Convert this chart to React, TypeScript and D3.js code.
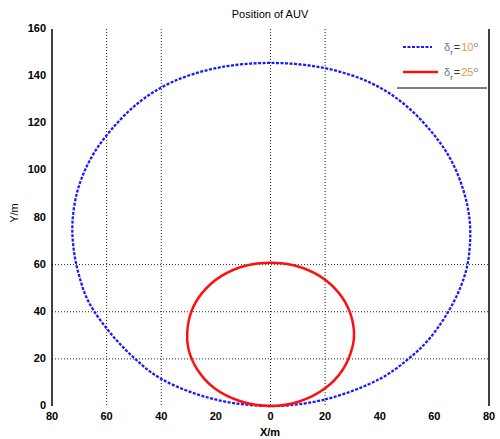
import React from "react";
import * as d3 from "d3";

const title = "Position of AUV";
const xLabel = "X/m";
const yLabel = "Y/m";
const xTicks = [-80, -60, -40, -20, 0, 20, 40, 60, 80];
const xTickLabels = ["80", "60", "40", "20", "0", "20", "40", "60", "80"];
const yTicks = [0, 20, 40, 60, 80, 100, 120, 140, 160];
const xGrid = [-60, -40, 0, 20];
const yGrid = [20, 40, 60];

// delta_r = 10 deg trajectory (x, y)
const blueX = [0, 20, 40, 50.5, 58.5, 67, 71.5, 73, 72.8, 70.5, 65.8, 58.5, 48, 36, 19.5, 0, -19.5, -36, -48, -58.5, -65.8, -70.5, -72.5, -72, -70, -66.5, -59, -50.5, -40, -21];
const blueY = [0, 2.8, 11.5, 20, 29, 44, 57, 68, 80, 92, 105, 117, 129, 137.5, 143.5, 145.6, 143.5, 137.5, 129, 117, 105, 92, 78, 66, 55, 44, 31.5, 21, 11.5, 3];
// delta_r = 25 deg trajectory
const redX = [0, 10.5, 20, 26.5, 30, 30.6, 29, 25, 18.2, 9.2, 0, -9.2, -18.2, -25, -29, -30.5, -30, -26.8, -20.5, -11];
const redY = [0, 1.9, 7.5, 15.5, 25, 31, 40, 48, 55, 59.5, 60.8, 59.5, 55, 48, 40, 31, 24, 15.5, 7.5, 2];

const W = 500, H = 439;
const left = 52, right = 489, top = 29, bottom = 406;

export default function App() {
  const x = d3.scaleLinear().domain([-80, 80]).range([left, right]);
  const y = d3.scaleLinear().domain([0, 160]).range([bottom, top]);
  const line = d3.line<[number, number]>().x(d => x(d[0])).y(d => y(d[1])).curve(d3.curveCatmullRomClosed.alpha(0.5));
  const blue: [number, number][] = blueX.map((v, i) => [v, blueY[i]]);
  const red: [number, number][] = redX.map((v, i) => [v, redY[i]]);
  const font = "'Liberation Sans', Arial, sans-serif";
  return (
    <svg width={W} height={H} style={{ position: "absolute", left: 0, top: 0, background: "#fff" }} fontFamily={font}>
      <rect width={W} height={H} fill="#fff" />
      {xGrid.map(g => (
        <line key={"xg" + g} x1={x(g)} x2={x(g)} y1={top} y2={bottom} stroke="#222" strokeWidth={1} strokeDasharray="1,2" />
      ))}
      {yGrid.map(g => (
        <line key={"yg" + g} x1={left} x2={right} y1={y(g)} y2={y(g)} stroke="#222" strokeWidth={1} strokeDasharray="1,2" />
      ))}
      <line x1={left} x2={left} y1={top} y2={bottom} stroke="#000" strokeWidth={1.5} />
      <line x1={right} x2={right} y1={top} y2={bottom} stroke="#000" strokeWidth={1.5} />
      {xTicks.map((t, i) => (
        <text key={"xt" + t} x={x(t)} y={bottom + 14} textAnchor="middle" fontSize={11} fontWeight="bold">{xTickLabels[i]}</text>
      ))}
      {yTicks.map(t => (
        <text key={"yt" + t} x={left - 6} y={y(t) + 3} textAnchor="end" fontSize={11} fontWeight="bold">{t}</text>
      ))}
      <text x={270} y={18} textAnchor="middle" fontSize={11}>{title}</text>
      <text x={270} y={436} textAnchor="middle" fontSize={11} fontWeight="bold">{xLabel}</text>
      <text transform={`translate(18,${213}) rotate(-90)`} textAnchor="middle" fontSize={11}>{yLabel}</text>
      <path d={line(blue) || ""} fill="none" stroke="#1a1aff" strokeWidth={2.3} strokeDasharray="3,1.5" />
      <path d={line(red) || ""} fill="none" stroke="#ff1010" strokeWidth={2.5} />
      {/* legend */}
      <line x1={403} x2={432} y1={47} y2={47} stroke="#1a1aff" strokeWidth={2} strokeDasharray="3,1.5" />
      <text x={444} y={51} fontSize={11}>
        <tspan fill="#6a7a8a">δ</tspan>
        <tspan fill="#5b3a8e" fontSize={8} dy={4}>r</tspan>
        <tspan fill="#334" dy={-4} dx={1}>=</tspan>
        <tspan fill="#e0a040" dx={1}>10</tspan>
        <tspan fill="#6a7a9a" fontSize={8} dy={-4}>o</tspan>
      </text>
      <line x1={403} x2={438} y1={72} y2={72} stroke="#ff1010" strokeWidth={2.5} />
      <text x={444} y={76} fontSize={11}>
        <tspan fill="#6a7a8a">δ</tspan>
        <tspan fill="#5b3a8e" fontSize={8} dy={4}>r</tspan>
        <tspan fill="#334" dy={-4} dx={1}>=</tspan>
        <tspan fill="#e0a040" dx={1}>25</tspan>
        <tspan fill="#6a7a9a" fontSize={8} dy={-4}>o</tspan>
      </text>
      <line x1={397} x2={487} y1={88} y2={88} stroke="#000" strokeWidth={1} />
    </svg>
  );
}
